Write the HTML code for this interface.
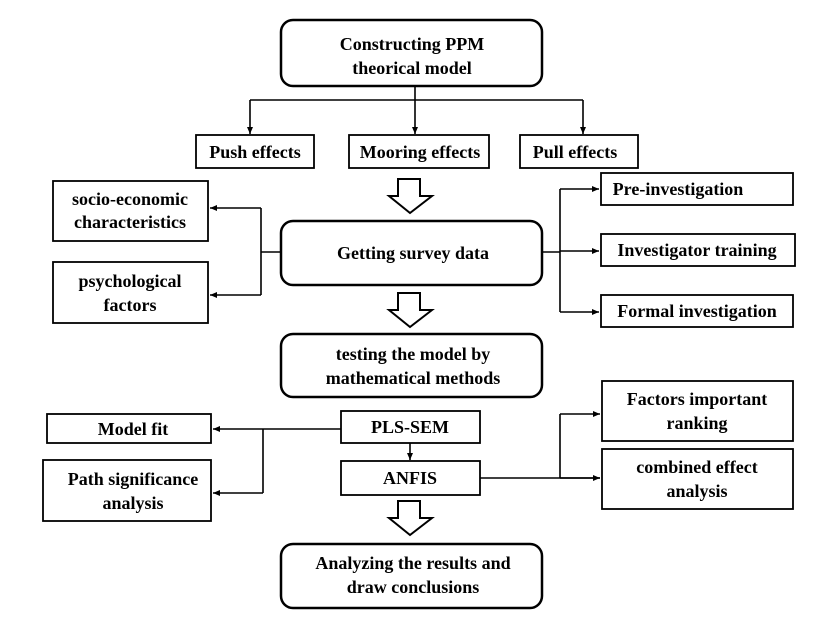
<!DOCTYPE html>
<html><head><meta charset="utf-8"><style>
body{margin:0;background:#fff;}
text{font-family:"Liberation Serif",serif;font-weight:bold;font-size:18px;fill:#000;text-anchor:middle;}
</style></head><body>
<svg width="837" height="623" viewBox="0 0 837 623" xmlns="http://www.w3.org/2000/svg">
<defs><marker id="a" markerWidth="8" markerHeight="8" refX="7" refY="4" orient="auto" markerUnits="userSpaceOnUse"><path d="M0,1 L7,4 L0,7 z" fill="#000"/></marker></defs>
<g fill="none" stroke="#000" stroke-width="2.5">
<rect x="281" y="20" width="261" height="66" rx="12"/>
<rect x="281" y="221" width="261" height="64" rx="12"/>
<rect x="281" y="334" width="261" height="63" rx="12"/>
<rect x="281" y="544" width="261" height="64" rx="12"/>
</g>
<g fill="none" stroke="#000" stroke-width="1.8">
<rect x="196" y="135" width="118" height="33"/>
<rect x="349" y="135" width="140" height="33"/>
<rect x="520" y="135" width="118" height="33"/>
<rect x="53" y="181" width="155" height="60"/>
<rect x="53" y="262" width="155" height="61"/>
<rect x="601" y="173" width="192" height="32"/>
<rect x="601" y="234" width="194" height="32"/>
<rect x="601" y="295" width="192" height="32"/>
<rect x="341" y="411" width="139" height="32"/>
<rect x="341" y="461" width="139" height="34"/>
<rect x="47" y="414" width="164" height="29"/>
<rect x="43" y="460" width="168" height="61"/>
<rect x="602" y="381" width="191" height="60"/>
<rect x="602" y="449" width="191" height="60"/>
</g>
<g fill="none" stroke="#000" stroke-width="1.6">
<path d="M415 86 V100 M250 100 H583"/>
<path d="M250 100 V134" marker-end="url(#a)"/>
<path d="M415 100 V134" marker-end="url(#a)"/>
<path d="M583 100 V134" marker-end="url(#a)"/>
<path d="M281 252 H261 M261 208 V295"/>
<path d="M261 208 H210" marker-end="url(#a)"/>
<path d="M261 295 H210" marker-end="url(#a)"/>
<path d="M542 252 H560 M560 189 V312"/>
<path d="M560 189 H599" marker-end="url(#a)"/>
<path d="M560 251 H599" marker-end="url(#a)"/>
<path d="M560 312 H599" marker-end="url(#a)"/>
<path d="M410 443 V460" marker-end="url(#a)"/>
<path d="M341 429 H263 M263 429 V493"/>
<path d="M263 429 H213" marker-end="url(#a)"/>
<path d="M263 493 H213" marker-end="url(#a)"/>
<path d="M480 478 H600 M560 478 V414"/>
<path d="M560 414 H600" marker-end="url(#a)"/>
<path d="M560 478 H600" marker-end="url(#a)"/>
</g>
<g fill="#fff" stroke="#000" stroke-width="2">
<path d="M398 179 H420 V196 H432 L410 213 L389 196 H398 Z"/>
<path d="M398 293 H420 V310 H432 L410 327 L389 310 H398 Z"/>
<path d="M398 501 H420 V518 H432 L410 535 L389 518 H398 Z"/>
</g>
<text x="412" y="50">Constructing PPM</text>
<text x="412" y="74">theorical model</text>
<text x="255" y="158">Push effects</text>
<text x="420" y="158">Mooring effects</text>
<text x="575" y="158">Pull effects</text>
<text x="130" y="205">socio-economic</text>
<text x="130" y="228">characteristics</text>
<text x="130" y="287">psychological</text>
<text x="130" y="311">factors</text>
<text x="413" y="259">Getting survey data</text>
<text x="678" y="195">Pre-investigation</text>
<text x="697" y="256">Investigator training</text>
<text x="697" y="317">Formal investigation</text>
<text x="413" y="360">testing the model by</text>
<text x="413" y="384">mathematical methods</text>
<text x="410" y="433">PLS-SEM</text>
<text x="410" y="484">ANFIS</text>
<text x="133" y="435">Model fit</text>
<text x="133" y="485">Path significance</text>
<text x="133" y="509">analysis</text>
<text x="697" y="405">Factors important</text>
<text x="697" y="429">ranking</text>
<text x="697" y="473">combined effect</text>
<text x="697" y="497">analysis</text>
<text x="413" y="569">Analyzing the results and</text>
<text x="413" y="593">draw conclusions</text>
</svg>
</body></html>
